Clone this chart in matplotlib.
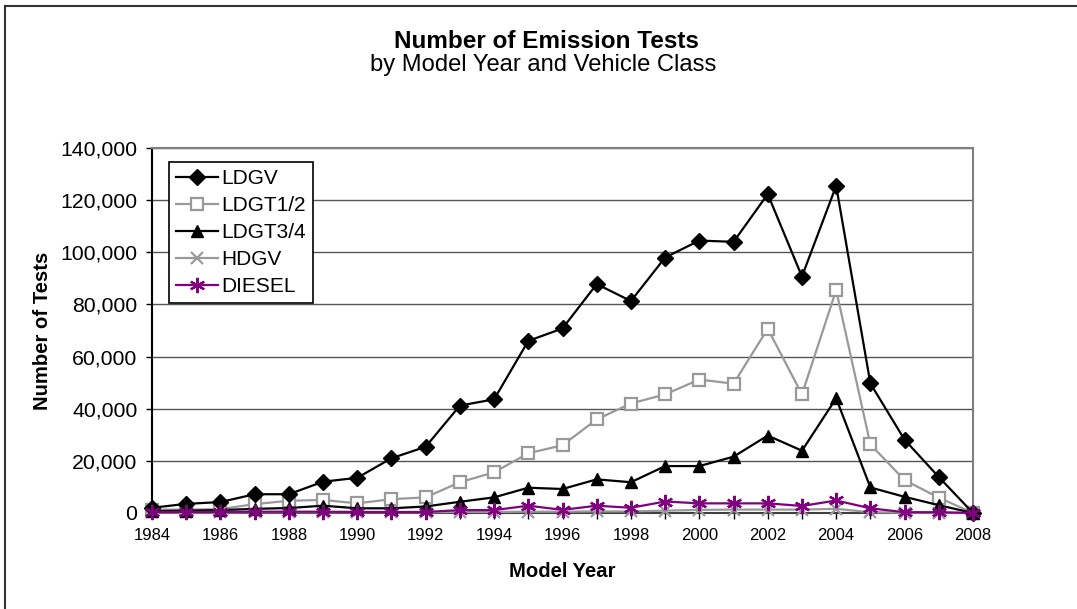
import matplotlib.pyplot as plt
from matplotlib.ticker import FuncFormatter, MultipleLocator
from matplotlib.lines import Line2D

plt.rcParams['font.family'] = ['Liberation Sans', 'DejaVu Sans']

years = list(range(1984, 2009))
ldgv = [2000, 3500, 4200, 7200, 7200, 12000, 13500, 21000, 25400, 41200, 43600,
        66000, 70800, 87800, 81300, 98000, 104500, 104000, 122300, 90700, 125500,
        49700, 28100, 13800, 0]
ldgt12 = [1300, 1300, 1500, 3400, 4700, 5000, 3700, 5300, 6000, 11800, 15600,
          22900, 26000, 35900, 42000, 45500, 51200, 49600, 70700, 45500, 85500,
          26300, 12600, 5900, 0]
ldgt34 = [700, 900, 1100, 1600, 1900, 2800, 1800, 1800, 2500, 4300, 6000,
          9700, 9200, 12900, 11800, 18000, 18000, 21600, 29700, 23900, 44000,
          9800, 6200, 3000, 0]
hdgv = [200, 200, 200, 300, 300, 300, 300, 300, 300, 400, 400,
        500, 500, 600, 600, 900, 1200, 1300, 1300, 1300, 1600,
        300, 100, 100, 0]
diesel = [400, 400, 400, 500, 500, 500, 400, 400, 400, 1100, 1100,
          2800, 1200, 2800, 2000, 4400, 3700, 3700, 3700, 2700, 4800,
          1800, 300, 300, 0]

fig = plt.figure(figsize=(10.77, 6.09), dpi=100)
ax = fig.add_axes([152/1077, 1-513/609, (973-152)/1077, (513-148)/609])

gray = '#999999'
purple = '#800080'
ax.plot(years, ldgv, color='black', lw=1.6, marker='D', ms=8.5, mfc='black', mec='black',
        label='LDGV', clip_on=False, zorder=6)
ax.plot(years, ldgt12, color=gray, lw=1.6, marker='s', ms=8, mfc='white', mec=gray, mew=1.6,
        label='LDGT1/2', clip_on=False, zorder=5)
ax.plot(years, ldgt34, color='black', lw=1.6, marker='^', ms=9, mfc='black', mec='black',
        label='LDGT3/4', clip_on=False, zorder=5)
ax.plot(years, hdgv, color=gray, lw=1.6, marker='x', ms=8, mew=1.6,
        label='HDGV', clip_on=False, zorder=4)
ax.plot(years, diesel, color=purple, lw=1.6, marker=(6, 2, 0), ms=11, mew=1.6,
        label='DIESEL', clip_on=False, zorder=7)

ax.set_xlim(1984, 2008)
ax.set_ylim(0, 140000)
ax.xaxis.set_major_locator(MultipleLocator(2))
ax.xaxis.set_minor_locator(MultipleLocator(1))
ax.yaxis.set_major_locator(MultipleLocator(20000))
ax.yaxis.set_major_formatter(FuncFormatter(lambda v, p: f'{int(v):,}'))
ax.grid(axis='y', color='#555555', lw=1.0)
ax.set_axisbelow(True)

ax.tick_params(axis='y', direction='out', length=4.5, width=1, labelsize=15.3, pad=6)
ax.tick_params(axis='x', which='both', direction='out', length=4.5, width=1, labelsize=12, pad=6)

ax.spines['left'].set_color('black')
ax.spines['bottom'].set_color('#404040')
ax.spines['top'].set_color('#808080')
ax.spines['right'].set_color('#808080')
for s in ax.spines.values():
    s.set_linewidth(1.5)

ax.set_ylabel('Number of Tests', fontsize=14.6, fontweight='bold', labelpad=6)
ax.set_xlabel('Model Year', fontsize=14.6, fontweight='bold', labelpad=14)

fig.text(546/1077, 1-41/609, 'Number of Emission Tests', ha='center', va='center',
         fontsize=17.5, fontweight='bold')
fig.text(543/1077, 1-65/609, 'by Model Year and Vehicle Class', ha='center', va='center',
         fontsize=17.1)

leg = ax.legend(loc='upper left', bbox_to_anchor=((169-152)/821, (513-162)/365),
                borderaxespad=0, fontsize=15, frameon=True, fancybox=False,
                edgecolor='black', framealpha=1, handlelength=2.0, labelspacing=0.38,
                handletextpad=0.15, borderpad=0.35)
leg.get_frame().set_linewidth(1.2)

# outer chart border (left and top visible)
fig.add_artist(Line2D([5/1077, 5/1077], [0, 1-5.5/609], color='#333333', lw=1.5))
fig.add_artist(Line2D([5/1077, 1], [1-5.5/609, 1-5.5/609], color='#333333', lw=1.5))

fig.savefig('out.png', dpi=100)
